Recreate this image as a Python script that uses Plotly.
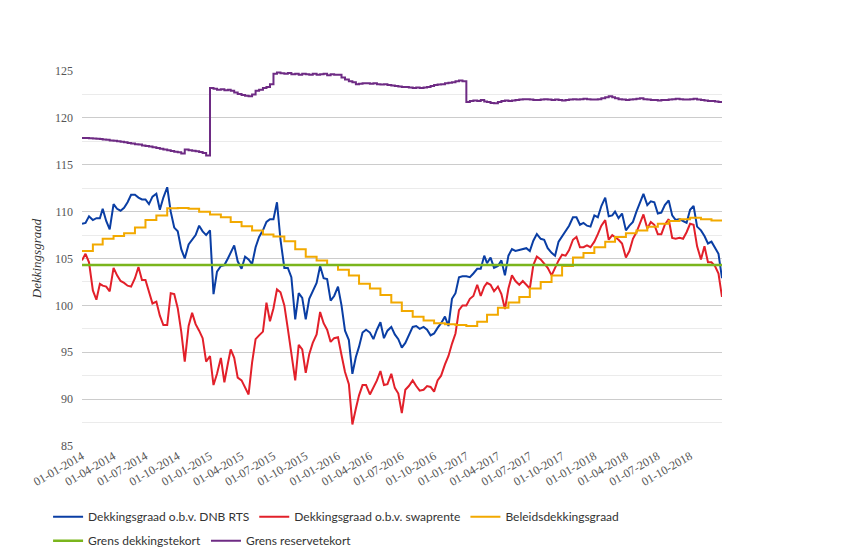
import plotly.graph_objects as go

# Sampling dates: 1st, 11th and 21st of every month, plus the last day shown
dates = [f"{y}-{m:02d}-{d:02d}" for y in range(2014, 2019) for m in range(1, 13) for d in (1, 11, 21)] + ["2018-12-31"]
month_starts = [f"{y}-{m:02d}-01" for y in range(2014, 2019) for m in range(1, 13)] + ["2018-12-31"]

# Dekkingsgraad o.b.v. DNB RTS
rts_2014 = [108.7, 108.8, 109.5, 109.1, 109.3, 109.3, 110.3, 109.0, 108.1, 110.8, 110.3, 110.1,
            110.4, 111.0, 111.8, 111.8, 111.5, 111.3, 111.3, 110.8, 111.6, 111.9, 110.2, 111.5,
            112.6, 110.0, 108.3, 107.9, 106.0, 105.0, 106.5, 107.0, 107.5, 108.5, 107.9, 107.5]
rts_2015 = [108.0, 101.2, 103.6, 104.2, 104.3, 105.0, 105.6, 106.4, 104.7, 103.9, 105.2, 104.9,
            104.4, 106.2, 107.3, 108.0, 108.9, 109.2, 109.2, 111.0, 107.0, 104.0, 104.0, 103.0,
            98.5, 101.3, 100.8, 98.5, 100.7, 101.6, 102.4, 104.2, 102.9, 102.8, 100.5, 101.0]
rts_2016 = [102.0, 100.0, 97.3, 96.3, 92.7, 94.5, 95.6, 97.1, 97.4, 97.1, 96.4, 97.4,
            98.2, 96.5, 97.3, 97.7, 96.9, 96.4, 95.5, 96.0, 96.8, 97.7, 97.8, 97.5,
            97.7, 97.4, 96.8, 97.0, 97.6, 98.1, 98.8, 97.8, 100.7, 101.3, 103.0, 103.1]
rts_2017 = [103.1, 103.0, 103.4, 103.9, 103.9, 105.3, 104.5, 105.1, 104.0, 104.2, 104.8, 103.2,
            105.3, 106.0, 105.8, 105.9, 106.0, 106.1, 105.8, 106.9, 107.6, 107.1, 107.0, 106.1,
            105.6, 105.3, 106.8, 107.4, 107.9, 108.5, 109.4, 109.4, 108.6, 108.8, 108.5, 108.4]
rts_2018 = [109.6, 109.4, 110.6, 111.5, 109.5, 109.6, 110.0, 109.3, 109.8, 108.0, 108.5, 108.9,
            110.0, 110.9, 111.9, 110.7, 111.1, 111.0, 109.8, 109.9, 110.7, 111.2, 109.6, 109.1,
            109.2, 109.0, 108.8, 110.2, 110.6, 108.4, 108.0, 107.4, 106.6, 106.8, 106.1, 105.5, 102.9]

# Dekkingsgraad o.b.v. swaprente
swap_2014 = [104.8, 105.5, 104.6, 101.6, 100.6, 102.3, 102.1, 102.0, 101.5, 104.0, 103.2, 102.6,
             102.4, 102.1, 102.0, 102.9, 104.1, 102.7, 102.7, 101.5, 100.2, 100.4, 98.9, 97.9,
             97.9, 101.3, 101.2, 99.7, 97.2, 94.0, 97.8, 99.2, 98.0, 97.3, 96.5, 94.0]
swap_2015 = [94.6, 91.5, 92.7, 94.4, 91.8, 93.8, 95.3, 94.4, 92.3, 92.0, 91.2, 90.5,
             93.9, 96.4, 96.8, 97.2, 100.3, 98.3, 99.7, 101.7, 101.4, 100.0, 97.5, 95.0,
             92.0, 95.8, 95.3, 92.8, 94.8, 96.0, 96.9, 99.3, 98.1, 97.4, 96.1, 96.5]
swap_2016 = [96.6, 94.7, 92.9, 91.6, 87.3, 89.0, 90.4, 91.5, 91.5, 90.5, 91.2, 92.0,
             93.0, 91.5, 91.6, 92.7, 91.2, 90.6, 88.5, 91.0, 91.4, 92.0, 91.4, 90.9,
             91.0, 91.4, 91.3, 90.8, 92.0, 92.5, 93.7, 94.6, 95.9, 97.0, 99.5, 100.0]
swap_2017 = [100.0, 100.7, 101.0, 102.2, 101.0, 102.0, 102.4, 102.2, 101.5, 102.0, 101.2, 99.6,
             101.8, 103.2, 102.6, 102.2, 102.6, 102.2, 101.8, 104.3, 105.2, 104.9, 104.5, 104.0,
             103.2, 104.0, 104.8, 105.4, 105.3, 105.9, 107.0, 107.3, 106.2, 106.2, 106.4, 106.2]
swap_2018 = [106.8, 107.6, 108.5, 109.1, 107.0, 107.5, 107.3, 107.0, 106.6, 105.1, 105.8, 107.1,
             107.8, 108.7, 109.7, 108.2, 108.9, 108.6, 107.6, 107.6, 108.6, 109.2, 107.2, 107.1,
             107.2, 107.1, 107.8, 108.7, 108.6, 106.3, 104.9, 106.3, 104.6, 104.6, 104.2, 103.4, 100.9]

# Grens reservetekort
res_2014 = [117.85, 117.85, 117.82, 117.8, 117.78, 117.74, 117.7, 117.66, 117.6, 117.55, 117.5, 117.45,
            117.4, 117.33, 117.27, 117.2, 117.15, 117.05, 117.0, 116.95, 116.87, 116.8, 116.72, 116.63,
            116.55, 116.48, 116.4, 116.33, 116.2, 116.62, 116.55, 116.5, 116.43, 116.35, 116.25, 116.0]
res_2015 = [123.2, 123.1, 123.0, 123.05, 122.95, 123.0, 122.9, 122.7, 122.55, 122.45, 122.35, 122.3,
            122.5, 122.9, 123.0, 123.2, 123.3, 123.6, 124.7, 124.85, 124.75, 124.7, 124.8, 124.65,
            124.7, 124.6, 124.7, 124.65, 124.6, 124.7, 124.6, 124.65, 124.7, 124.55, 124.65, 124.6]
res_2016 = [124.6, 124.3, 124.1, 123.9, 123.8, 123.6, 123.65, 123.7, 123.7, 123.65, 123.7, 123.6,
            123.55, 123.6, 123.5, 123.45, 123.4, 123.35, 123.3, 123.3, 123.25, 123.2, 123.25, 123.2,
            123.25, 123.3, 123.4, 123.5, 123.55, 123.6, 123.7, 123.75, 123.8, 123.9, 124.0, 123.9]
res_2017 = [121.7, 121.8, 121.85, 121.8, 121.9, 121.75, 121.7, 121.6, 121.55, 121.7, 121.8, 121.85,
            121.8, 121.85, 121.9, 121.95, 122.0, 122.0, 121.95, 121.9, 121.9, 121.95, 122.0, 121.95,
            121.9, 121.95, 121.9, 121.85, 121.9, 121.95, 122.0, 121.95, 122.0, 122.05, 122.0, 121.95]
res_2018 = [121.95, 122.0, 122.1, 122.2, 122.3, 122.2, 122.1, 122.0, 121.95, 121.9, 121.95, 122.0,
            122.05, 122.1, 122.0, 121.95, 121.9, 121.9, 121.85, 121.9, 121.9, 121.95, 122.0, 122.05,
            122.0, 121.95, 121.95, 122.0, 122.05, 121.95, 121.9, 121.85, 121.8, 121.8, 121.75, 121.7, 121.65]

# Beleidsdekkingsgraad (monthly)
beleid = [105.8, 106.5, 107.1, 107.4, 107.7, 108.3, 109.1, 109.6, 110.35, 110.4, 110.3, 110.0,
          109.7, 109.4, 108.9, 108.45, 108.0, 107.55, 107.35, 106.85, 106.0, 105.2, 104.8, 104.3,
          103.8, 103.2, 102.3, 101.8, 101.1, 100.3, 99.4, 98.8, 98.4, 98.1, 98.0, 97.9,
          97.8, 98.25, 99.0, 99.75, 100.3, 100.9, 101.8, 102.5, 103.2, 104.2, 105.1, 105.6,
          106.2, 106.8, 107.3, 107.7, 108.0, 108.4, 108.7, 109.0, 109.2, 109.35, 109.2, 109.05, 109.05]

# Grens dekkingstekort
grens_dates = ["2014-01-01", "2018-12-31"]
grens_dekking = [104.3, 104.3]

rts = rts_2014 + rts_2015 + rts_2016 + rts_2017 + rts_2018
swap = swap_2014 + swap_2015 + swap_2016 + swap_2017 + swap_2018
reserve = res_2014 + res_2015 + res_2016 + res_2017 + res_2018

BLUE, RED, YELLOW, GREEN, PURPLE = "#0a3ea4", "#e2202a", "#f2a900", "#7ab51d", "#6e2b84"

fig = go.Figure()
fig.add_trace(go.Scatter(x=dates, y=rts, mode="lines", name="Dekkingsgraad o.b.v. DNB RTS",
                         line=dict(color=BLUE, width=2), legend="legend"))
fig.add_trace(go.Scatter(x=dates, y=swap, mode="lines", name="Dekkingsgraad o.b.v. swaprente",
                         line=dict(color=RED, width=2), legend="legend"))
fig.add_trace(go.Scatter(x=month_starts, y=beleid, mode="lines", name="Beleidsdekkingsgraad",
                         line=dict(color=YELLOW, width=2, shape="hv"), legend="legend"))
fig.add_trace(go.Scatter(x=grens_dates, y=grens_dekking, mode="lines", name="Grens dekkingstekort",
                         line=dict(color=GREEN, width=2.5), legend="legend2"))
fig.add_trace(go.Scatter(x=dates, y=reserve, mode="lines", name="Grens reservetekort",
                         line=dict(color=PURPLE, width=2, shape="hv"), legend="legend2"))

serif = "'Liberation Serif', 'DejaVu Serif', serif"
legend_common = dict(orientation="h", x=-0.053, xanchor="left", yanchor="top",
                     font=dict(family="Lato", size=12, color="#333333"),
                     bgcolor="rgba(0,0,0,0)", borderwidth=0)

# the page body has an 8px margin, so the figure margins are shifted by 8px
fig.update_layout(
    width=844, height=559,
    margin=dict(l=74, r=130, t=63, b=121, autoexpand=False),
    plot_bgcolor="white", paper_bgcolor="white",
    legend=dict(y=-0.150, **legend_common),
    legend2=dict(y=-0.214, **legend_common),
    xaxis=dict(type="date", range=["2014-01-01", "2018-12-31"], tickformat="%d-%m-%Y",
               dtick="M3", tick0="2014-01-01", tickangle=-30, showgrid=False, showline=False,
               zeroline=False, ticks="", tickfont=dict(family=serif, size=12, color="#555555")),
    yaxis=dict(range=[85, 125], dtick=5, tick0=85, showgrid=True, gridcolor="#cccccc",
               gridwidth=1, zeroline=False, showline=False, ticks="",
               minor=dict(dtick=2.5, showgrid=True, gridcolor="#ebebeb", gridwidth=1),
               tickfont=dict(family=serif, size=12, color="#555555"), ticklabelstandoff=8,
               title=dict(text="<i>Dekkingsgraad</i>", standoff=10,
                          font=dict(family=serif, size=13, color="#333333"))),
)

fig.write_html("out.html")
